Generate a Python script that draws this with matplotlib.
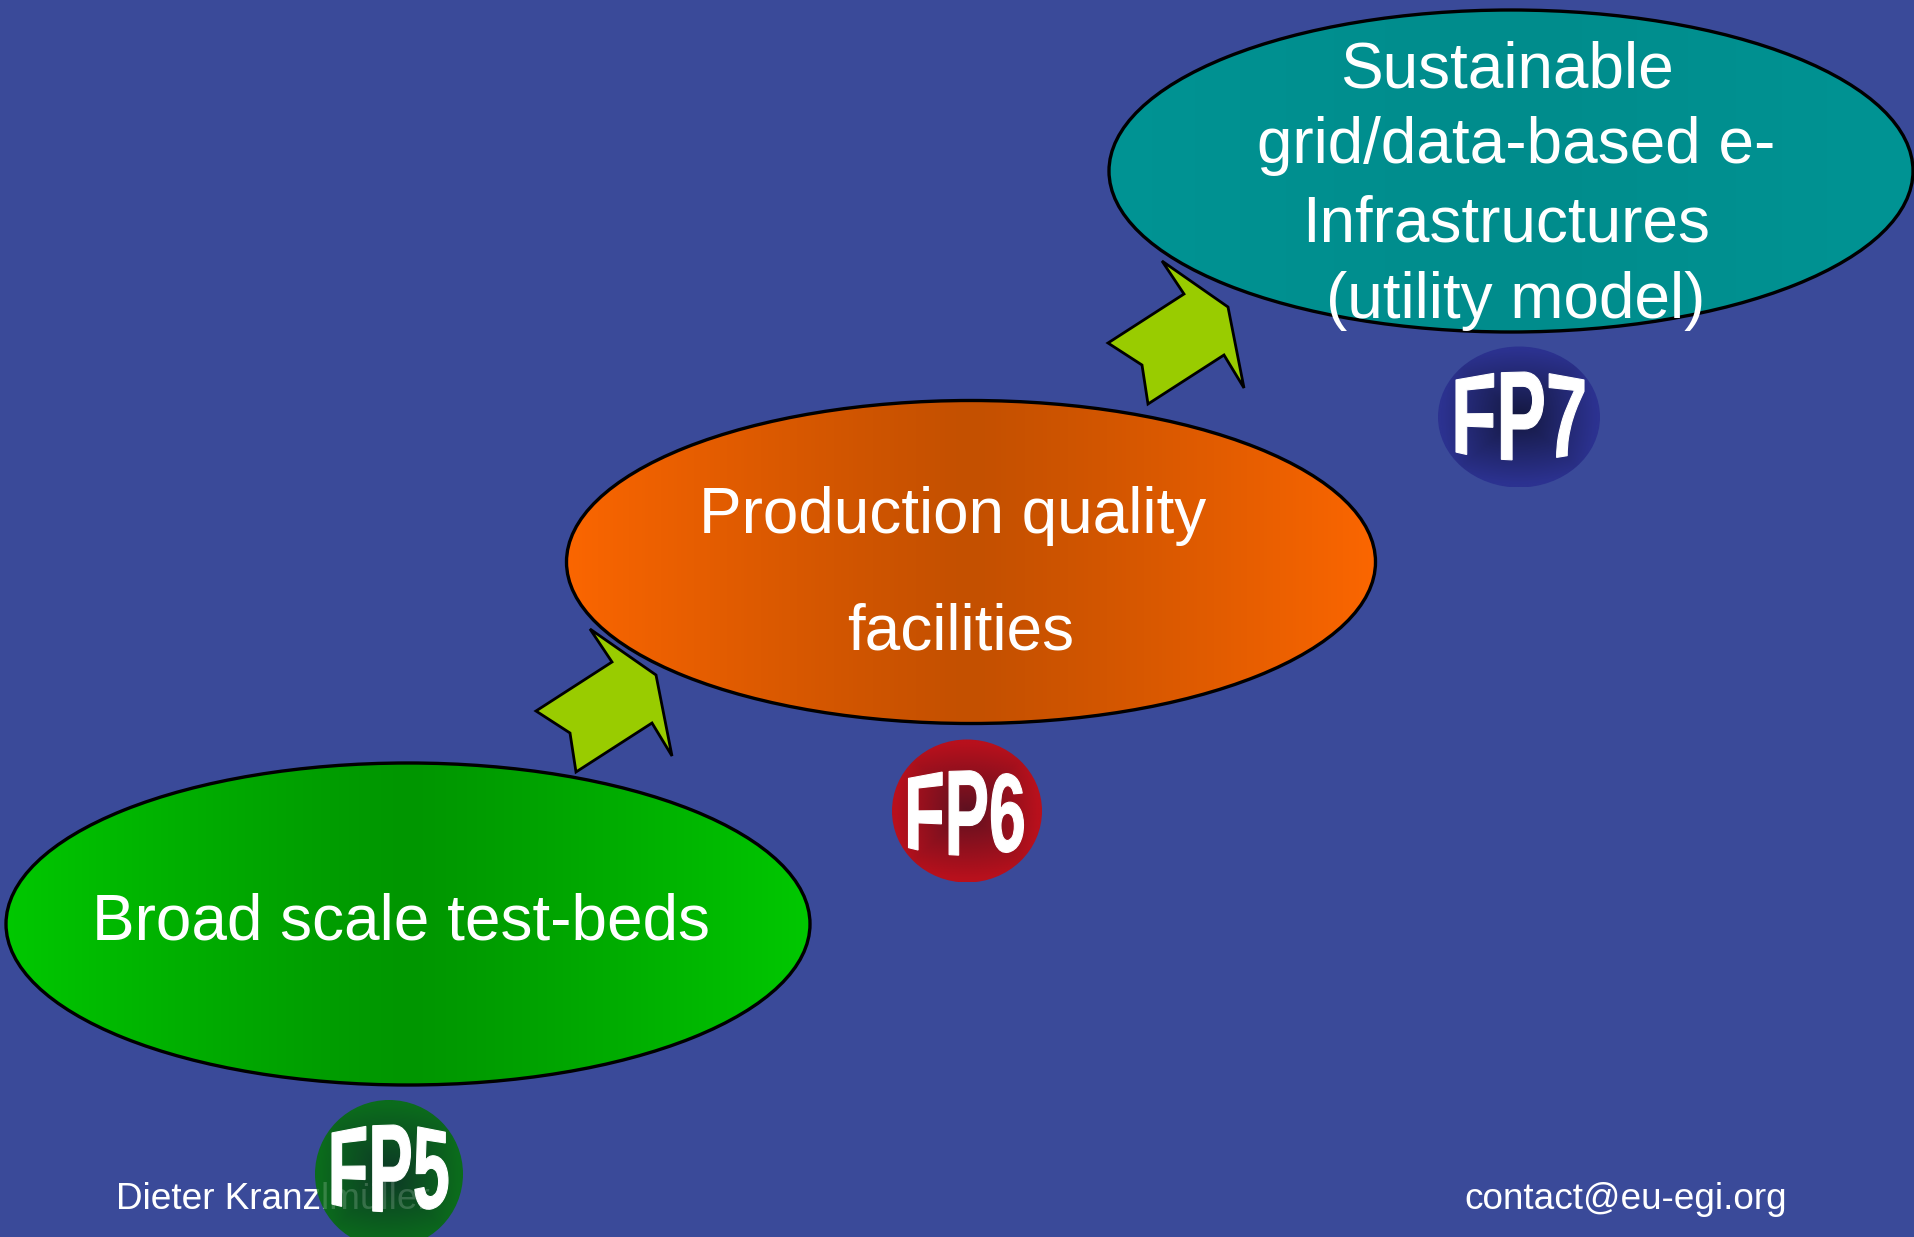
import numpy as np
import matplotlib
matplotlib.use("Agg")
import matplotlib.pyplot as plt
from matplotlib.patches import Ellipse, Polygon, PathPatch
from matplotlib.textpath import TextPath
from matplotlib.font_manager import FontProperties
from matplotlib.path import Path
from matplotlib.colors import to_rgb

# ---------------- content ----------------
stage_lines = [
    ["Broad scale test-beds"],
    ["Production quality", "facilities"],
    ["Sustainable", "grid/data-based e-", "Infrastructures", "(utility model)"],
]
badge_labels = ["FP5", "FP6", "FP7"]
footer_left = "Dieter Kranzlmüller"
footer_right = "contact@eu-egi.org"

# ---------------- layout (pixel space of the 1915x1237 canvas) ----------------
W, H = 1915, 1237
bg = "#3a4a99"
ell_centers = [(408, 924), (971, 562), (1511, 171)]
ell_sizes = [(804, 322), (809, 323), (804, 322)]
ell_edge_cols = ["#00c800", "#fb6600", "#009494"]
ell_mid_cols = ["#009600", "#c45000", "#008c8c"]
text_xs = [[401], [953, 961], [1507, 1516, 1506, 1516]]
text_baselines = [[939], [533, 650], [87, 163, 241, 318]]

badge_centers = [(389, 1174), (967, 811), (1519, 417)]
badge_sizes = [(148, 148), (150, 143), (162, 141)]
badge_edge_cols = ["#0b6c1c", "#b8101c", "#2c3290"]
badge_mid_cols = ["#0d3826", "#5e1020", "#141840"]
letter_boxes = [(390, 1169, 116, 88), (966, 813, 115, 87), (1520, 416, 128, 88)]

arrow_shape = [(0, 0), (76, -49), (54, -82), (120, -36), (136, 45),
               (116, 12), (40, 61), (34, 22)]
arrow_anchors = [(536, 711), (1108, 343)]

fig = plt.figure(figsize=(W / 100, H / 100), dpi=100)
fig.patch.set_facecolor(bg)
ax = fig.add_axes([0, 0, 1, 1])
ax.set_facecolor(bg)


def gradient_ellipse(c, s, edge, mid, z):
    cx, cy = c
    w, h = s
    e = Ellipse((cx, cy), w, h, fc="none", ec="black", lw=2.4, zorder=z + 0.1)
    ax.add_patch(e)
    t = np.abs(np.linspace(-1, 1, 400))
    t = t ** 1.2
    e_c, m_c = np.array(to_rgb(edge)), np.array(to_rgb(mid))
    img = m_c[None, :] + (e_c - m_c)[None, :] * t[:, None]
    img = img[None, :, :]
    im = ax.imshow(img, extent=[cx - w / 2, cx + w / 2, cy + h / 2, cy - h / 2],
                   zorder=z, interpolation="bilinear", aspect="auto")
    im.set_clip_path(e)


def badge(c, s, edge, mid, z):
    cx, cy = c
    w, h = s
    e = Ellipse((cx, cy), w, h, fc="none", ec="none", zorder=z)
    ax.add_patch(e)
    u = np.linspace(-1, 1, 200)
    U, V = np.meshgrid(u, u)
    d = np.clip(np.maximum(np.abs(U), np.abs(V)) * 0.6 + np.hypot(U, V) * 0.45, 0, 1)
    e_c, m_c = np.array(to_rgb(edge)), np.array(to_rgb(mid))
    img = m_c[None, None, :] + (e_c - m_c)[None, None, :] * d[:, :, None]
    im = ax.imshow(img, extent=[cx - w / 2, cx + w / 2, cy + h / 2, cy - h / 2],
                   zorder=z, interpolation="bilinear", aspect="auto")
    im.set_clip_path(e)


def warped_label(label, box, z):
    cx, cy, w, h = box
    tp = TextPath((0, 0), label, size=100,
                  prop=FontProperties(family="Liberation Sans", weight="bold"))
    ext = tp.get_extents()
    v = tp.vertices
    un = (v[:, 0] - ext.x0) / ext.width
    vn = (v[:, 1] - ext.y0) / ext.height
    k = 0.18
    sc = 1 - k * (2 * un - 1) ** 2
    X = cx + (un - 0.5) * w
    Y = cy - (vn - 0.5) * h * sc
    p = Path(np.column_stack([X, Y]), tp.codes)
    ax.add_patch(PathPatch(p, fc="white", ec="white", lw=0.8, zorder=z))


# footer (drawn below the FP5 badge)
ax.text(116, 1209, footer_left, fontsize=26.6, color="white", family="Liberation Sans",
        va="baseline", ha="left", zorder=1)
ax.text(1464, 1209, footer_right, fontsize=26.6, color="white", family="Liberation Sans",
        va="baseline", ha="left", zorder=1)

for i in range(3):
    gradient_ellipse(ell_centers[i], ell_sizes[i], ell_edge_cols[i], ell_mid_cols[i], 2)

for (ax0, ay0) in arrow_anchors:
    pts = [(ax0 + dx, ay0 + dy) for dx, dy in arrow_shape]
    ax.add_patch(Polygon(pts, closed=True, fc="#99cc00", ec="black", lw=2.0,
                         joinstyle="miter", zorder=4))

for i in range(3):
    badge(badge_centers[i], badge_sizes[i], badge_edge_cols[i], badge_mid_cols[i], 5)

# faint footer showing through the badge
ax.text(116, 1209, footer_left, fontsize=26.6, color="white", family="Liberation Sans",
        va="baseline", ha="left", zorder=6, alpha=0.18)

for i in range(3):
    warped_label(badge_labels[i], letter_boxes[i], 7)

for i, lines in enumerate(stage_lines):
    for line, xc, yb in zip(lines, text_xs[i], text_baselines[i]):
        ax.text(xc, yb, line, fontsize=46, color="white", family="Liberation Sans",
                ha="center", va="baseline", zorder=8)

ax.set_xlim(0, W)
ax.set_ylim(H, 0)
ax.axis("off")
fig.savefig("out.png", dpi=100, facecolor=bg)
